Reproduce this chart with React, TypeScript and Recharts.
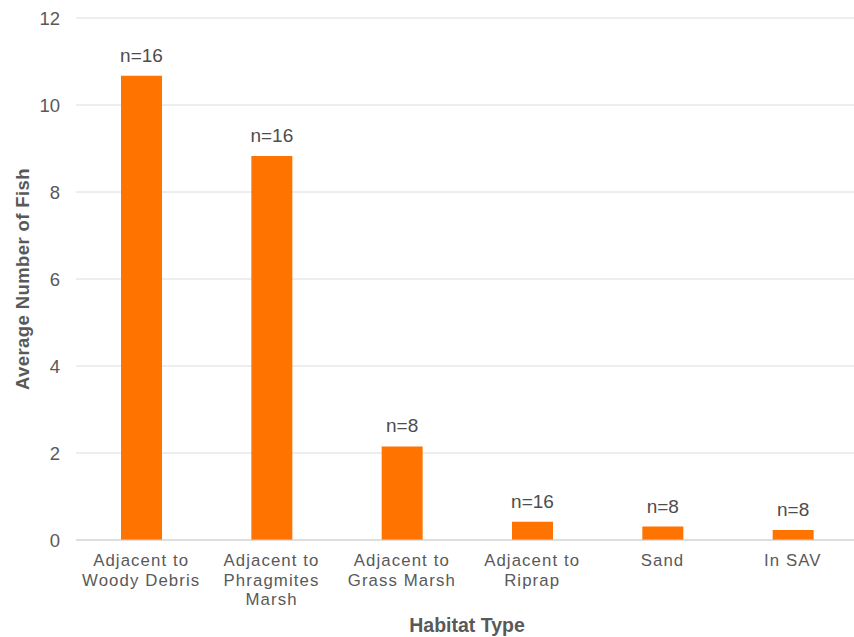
import { BarChart, Bar, XAxis, YAxis, CartesianGrid, LabelList } from 'recharts';

const habitats = [
  'Adjacent to\nWoody Debris',
  'Adjacent to\nPhragmites\nMarsh',
  'Adjacent to\nGrass Marsh',
  'Adjacent to\nRiprap',
  'Sand',
  'In SAV',
];
const avgFish = [10.67, 8.83, 2.15, 0.42, 0.31, 0.23];
const sampleSizes = [16, 16, 8, 16, 8, 8];
const yTicks = [0, 2, 4, 6, 8, 10, 12];

const data = habitats.map((name, i) => ({ name, value: avgFish[i], n: sampleSizes[i] }));

const FONT = '"Liberation Sans", Arial, sans-serif';
const TEXT = '#595959';

function HabitatTick({ x, y, payload }: any) {
  const lines = String(payload.value).split('\n');
  return (
    <text x={x} y={y} textAnchor="middle" fill={TEXT} fontSize={16.8} letterSpacing={1.1} fontFamily={FONT}>
      {lines.map((line, i) => (
        <tspan key={i} x={x} dy={i === 0 ? 18 : 19.5}>
          {line}
        </tspan>
      ))}
    </text>
  );
}

function YTitle({ viewBox }: any) {
  const cy = viewBox.y + viewBox.height / 2;
  return (
    <text
      x={22}
      y={cy}
      transform={`rotate(-90, 22, ${cy})`}
      textAnchor="middle"
      dominantBaseline="central"
      fill={TEXT}
      fontSize={18.5}
      letterSpacing={0.4}
      fontWeight="bold"
      fontFamily={FONT}
    >
      Average Number of Fish
    </text>
  );
}

function XTitle({ viewBox }: any) {
  const cx = viewBox.x + viewBox.width / 2;
  return (
    <text x={cx} y={632} textAnchor="middle" fill={TEXT} fontSize={19.5} fontWeight="bold" fontFamily={FONT}>
      Habitat Type
    </text>
  );
}

export default function App() {
  return (
    <div style={{ position: 'fixed', left: 0, top: 0, width: 854, height: 637, overflow: 'hidden', background: '#fff' }}>
      <BarChart width={870} height={637} data={data} margin={{ top: 18, right: 12, bottom: 0, left: 0 }}>
        <CartesianGrid vertical={false} stroke="#dcdcdc" />
        <XAxis
          dataKey="name"
          height={97}
          interval={0}
          tickLine={false}
          axisLine={{ stroke: '#cfcfcf' }}
          tick={<HabitatTick />}
          label={<XTitle />}
        />
        <YAxis
          width={76}
          domain={[0, 12]}
          ticks={yTicks}
          tickLine={false}
          axisLine={false}
          tickSize={0}
          tickMargin={16}
          tick={{ fill: TEXT, fontSize: 18.5, fontFamily: FONT }}
          label={<YTitle />}
        />
        <Bar dataKey="value" fill="#ff7400" barSize={41} isAnimationActive={false}>
          <LabelList
            dataKey="n"
            position="top"
            offset={14}
            formatter={(v: any) => `n=${v}`}
            style={{ fill: '#4d4d4d', fontSize: 19, fontFamily: FONT }}
          />
        </Bar>
      </BarChart>
    </div>
  );
}
